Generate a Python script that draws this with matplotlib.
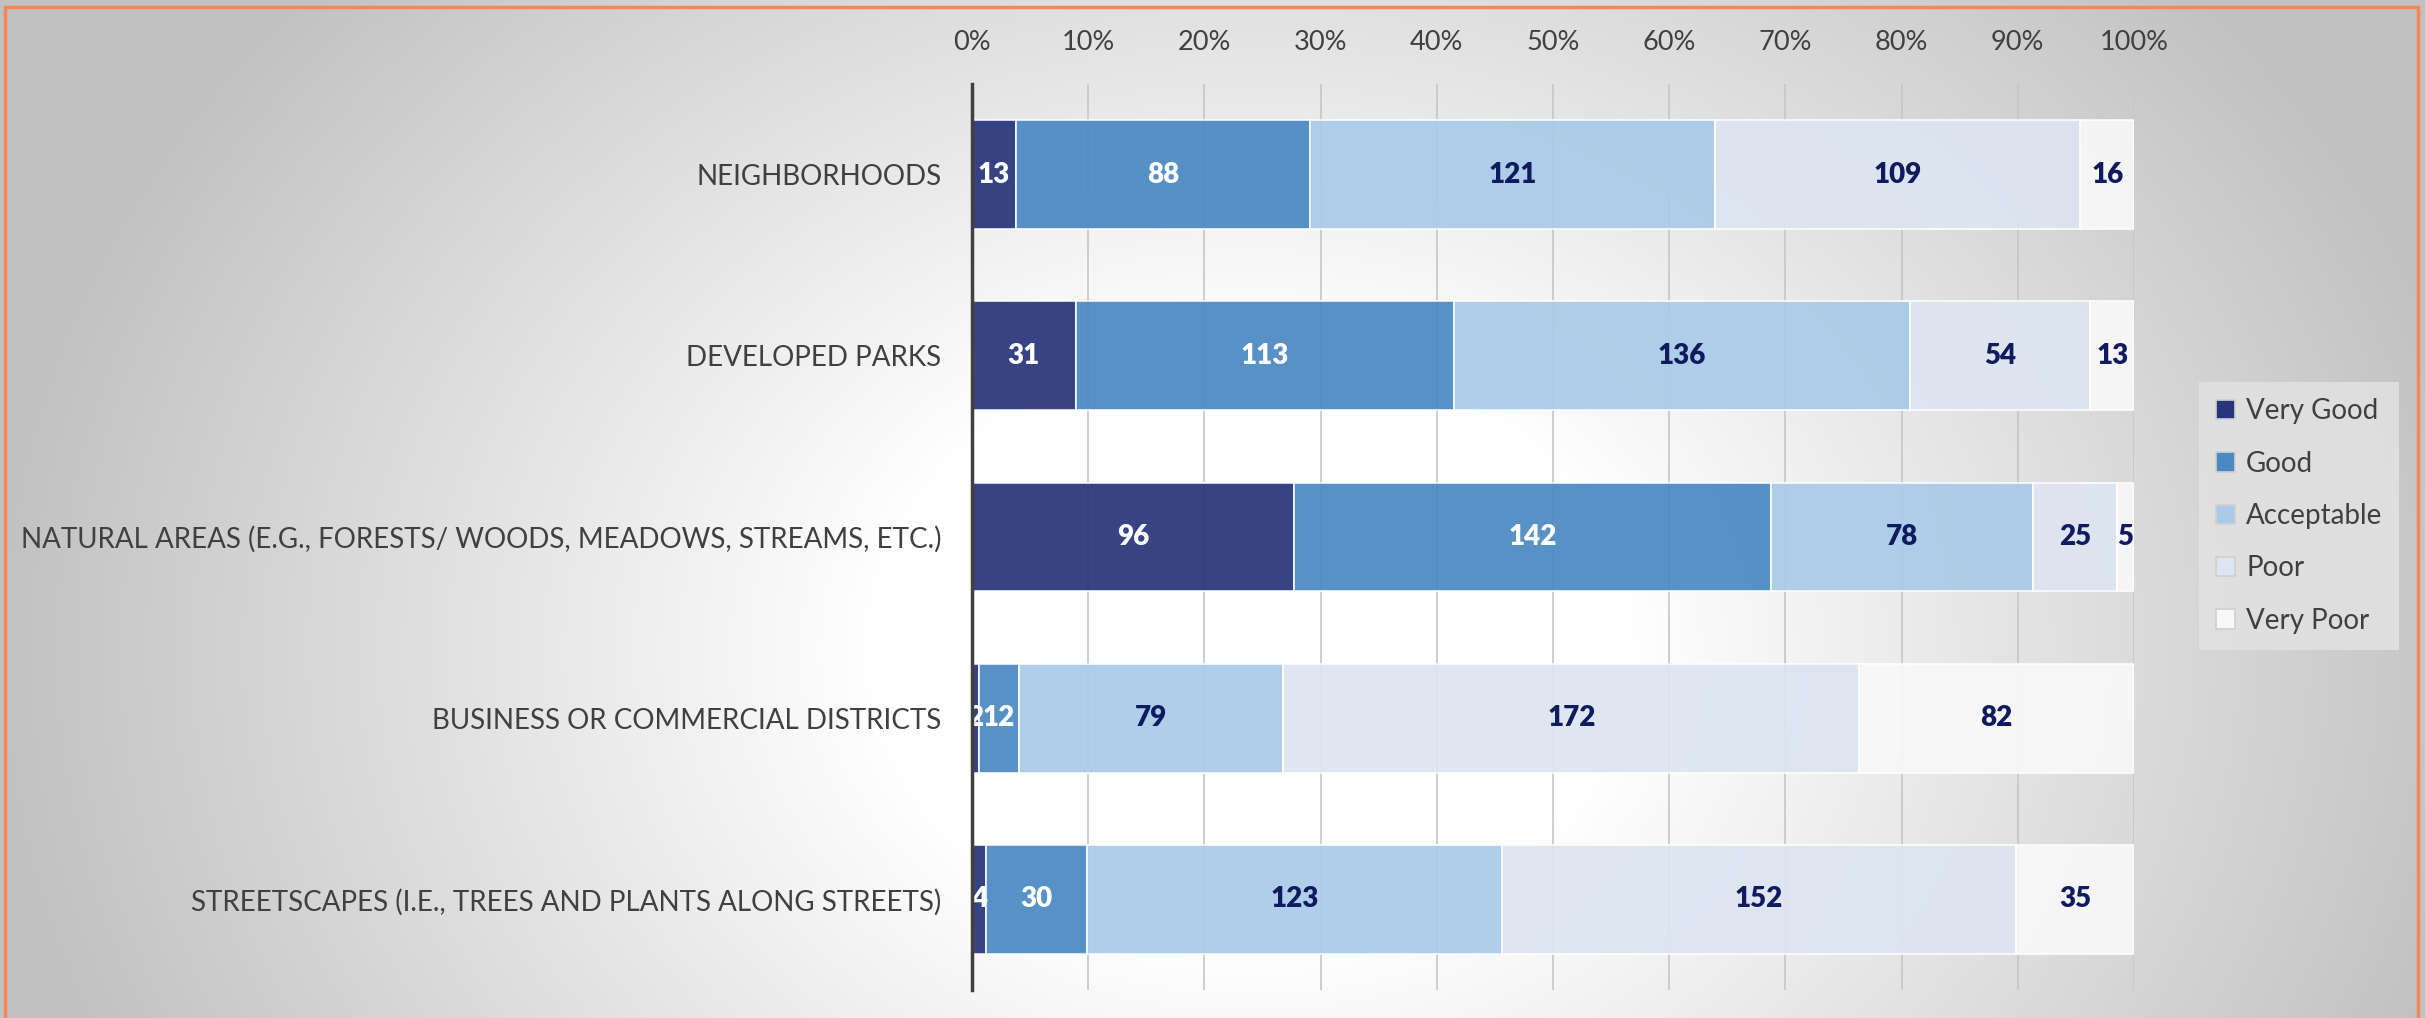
"""
Ratings of tree / green-space condition by area type, as a 100% stacked bar.
"""

import matplotlib.pyplot as plt
import matplotlib.patches as patches
import numpy as np

# ── Data ──────────────────────────────────────────────────────────────────────
categories = [
    "NEIGHBORHOODS",
    "DEVELOPED PARKS",
    "NATURAL AREAS (E.G., FORESTS/ WOODS, MEADOWS, STREAMS, ETC.)",
    "BUSINESS OR COMMERCIAL DISTRICTS",
    "STREETSCAPES (I.E., TREES AND PLANTS ALONG STREETS)",
]
series_names = ["Very Good", "Good", "Acceptable", "Poor", "Very Poor"]
very_good  = [13, 31, 96, 2, 4]
good       = [88, 113, 142, 12, 30]
acceptable = [121, 136, 78, 79, 123]
poor       = [109, 54, 25, 172, 152]
very_poor  = [16, 13, 5, 82, 35]
tick_labels = [f"{p}%" for p in range(0, 101, 10)]

# ── Style ─────────────────────────────────────────────────────────────────────
colors      = ["#29357b", "#4b89c2", "#a9cbe8", "#dde5f2", "#f8f8f8"]
text_colors = ["white", "white", "#0f1b5e", "#0f1b5e", "#0f1b5e"]
GRAY_TEXT   = "#404040"
FONT        = ["Lato", "DejaVu Sans"]
plt.rcParams["font.family"] = FONT

W, H = 2425, 1018
fig = plt.figure(figsize=(W / 100, H / 100), dpi=100)

# ── Background: radial grey-to-white gradient ─────────────────────────────────
yy, xx = np.mgrid[0:H, 0:W]
d = np.sqrt(((xx - 1250) / 1250) ** 2 + ((yy - 650) / 1000) ** 2)
t = np.clip((d - 0.3) / 0.7, 0, 1)
shade = 1 - 0.24 * t
bg = fig.add_axes([0, 0, 1, 1], zorder=-5)
bg.imshow(np.dstack([shade, shade, shade]), extent=(0, 1, 0, 1), aspect="auto")
bg.axis("off")

# ── Main axes ─────────────────────────────────────────────────────────────────
left, right = 972 / W, 2134 / W
top, bottom = 1 - 84 / H, 1 - 990 / H
ax = fig.add_axes([left, bottom, right - left, top - bottom])
ax.patch.set_alpha(0)

series = [very_good, good, acceptable, poor, very_poor]
counts = np.array(series, dtype=float)
totals = counts.sum(axis=0)
pct = counts / totals * 100
y = np.arange(len(categories))

for x in range(0, 101, 10):
    ax.axvline(x, color="#c6c6c6", lw=1.2, zorder=1)

lefts = np.zeros(len(categories))
for s, name in enumerate(series_names):
    ax.barh(y, pct[s], left=lefts, height=0.6, color=colors[s],
            edgecolor="white", linewidth=1.2, alpha=0.93, label=name, zorder=2)
    for j in range(len(categories)):
        ax.text(lefts[j] + pct[s][j] / 2, y[j], f"{int(counts[s][j])}",
                ha="center", va="center", fontsize=20, fontweight="heavy",
                color=text_colors[s], zorder=4)
    lefts += pct[s]

ax.set_xlim(0, 100)
ax.set_ylim(len(categories) - 0.5, -0.5)
ax.set_yticks(y)
ax.set_yticklabels(categories, fontsize=20, color=GRAY_TEXT)
ax.set_xticks(range(0, 101, 10))
ax.set_xticklabels(tick_labels, fontsize=19.5, color=GRAY_TEXT)
ax.xaxis.tick_top()
ax.tick_params(axis="x", length=0, pad=21)
ax.tick_params(axis="y", length=0, pad=22)
for side in ["top", "right", "bottom"]:
    ax.spines[side].set_visible(False)
ax.spines["left"].set_color(GRAY_TEXT)
ax.spines["left"].set_linewidth(2.5)
ax.spines["left"].set_zorder(5)

# ── Legend ────────────────────────────────────────────────────────────────────
leg = fig.legend(loc="center", bbox_to_anchor=(2299 / W, 1 - 516 / H),
                 fontsize=20, frameon=True, fancybox=False, handlelength=0.7,
                 handleheight=0.7, handletextpad=0.4, labelspacing=0.95,
                 borderpad=0.6)
leg.get_frame().set_facecolor("#e2e2e2")
leg.get_frame().set_edgecolor("none")
leg.get_frame().set_alpha(0.85)
for txt in leg.get_texts():
    txt.set_color(GRAY_TEXT)
for h in leg.legend_handles:
    h.set_alpha(1)
    h.set_edgecolor("#d0d0d0")

# ── Orange frame ──────────────────────────────────────────────────────────────
frame = patches.Rectangle((5 / W, -0.02), (2418 - 5) / W, 1 - 7 / H + 0.02,
                          transform=fig.transFigure, fill=False,
                          edgecolor="#f4875a", linewidth=2.5, zorder=10)
fig.patches.append(frame)

fig.savefig("out.png", dpi=100)
